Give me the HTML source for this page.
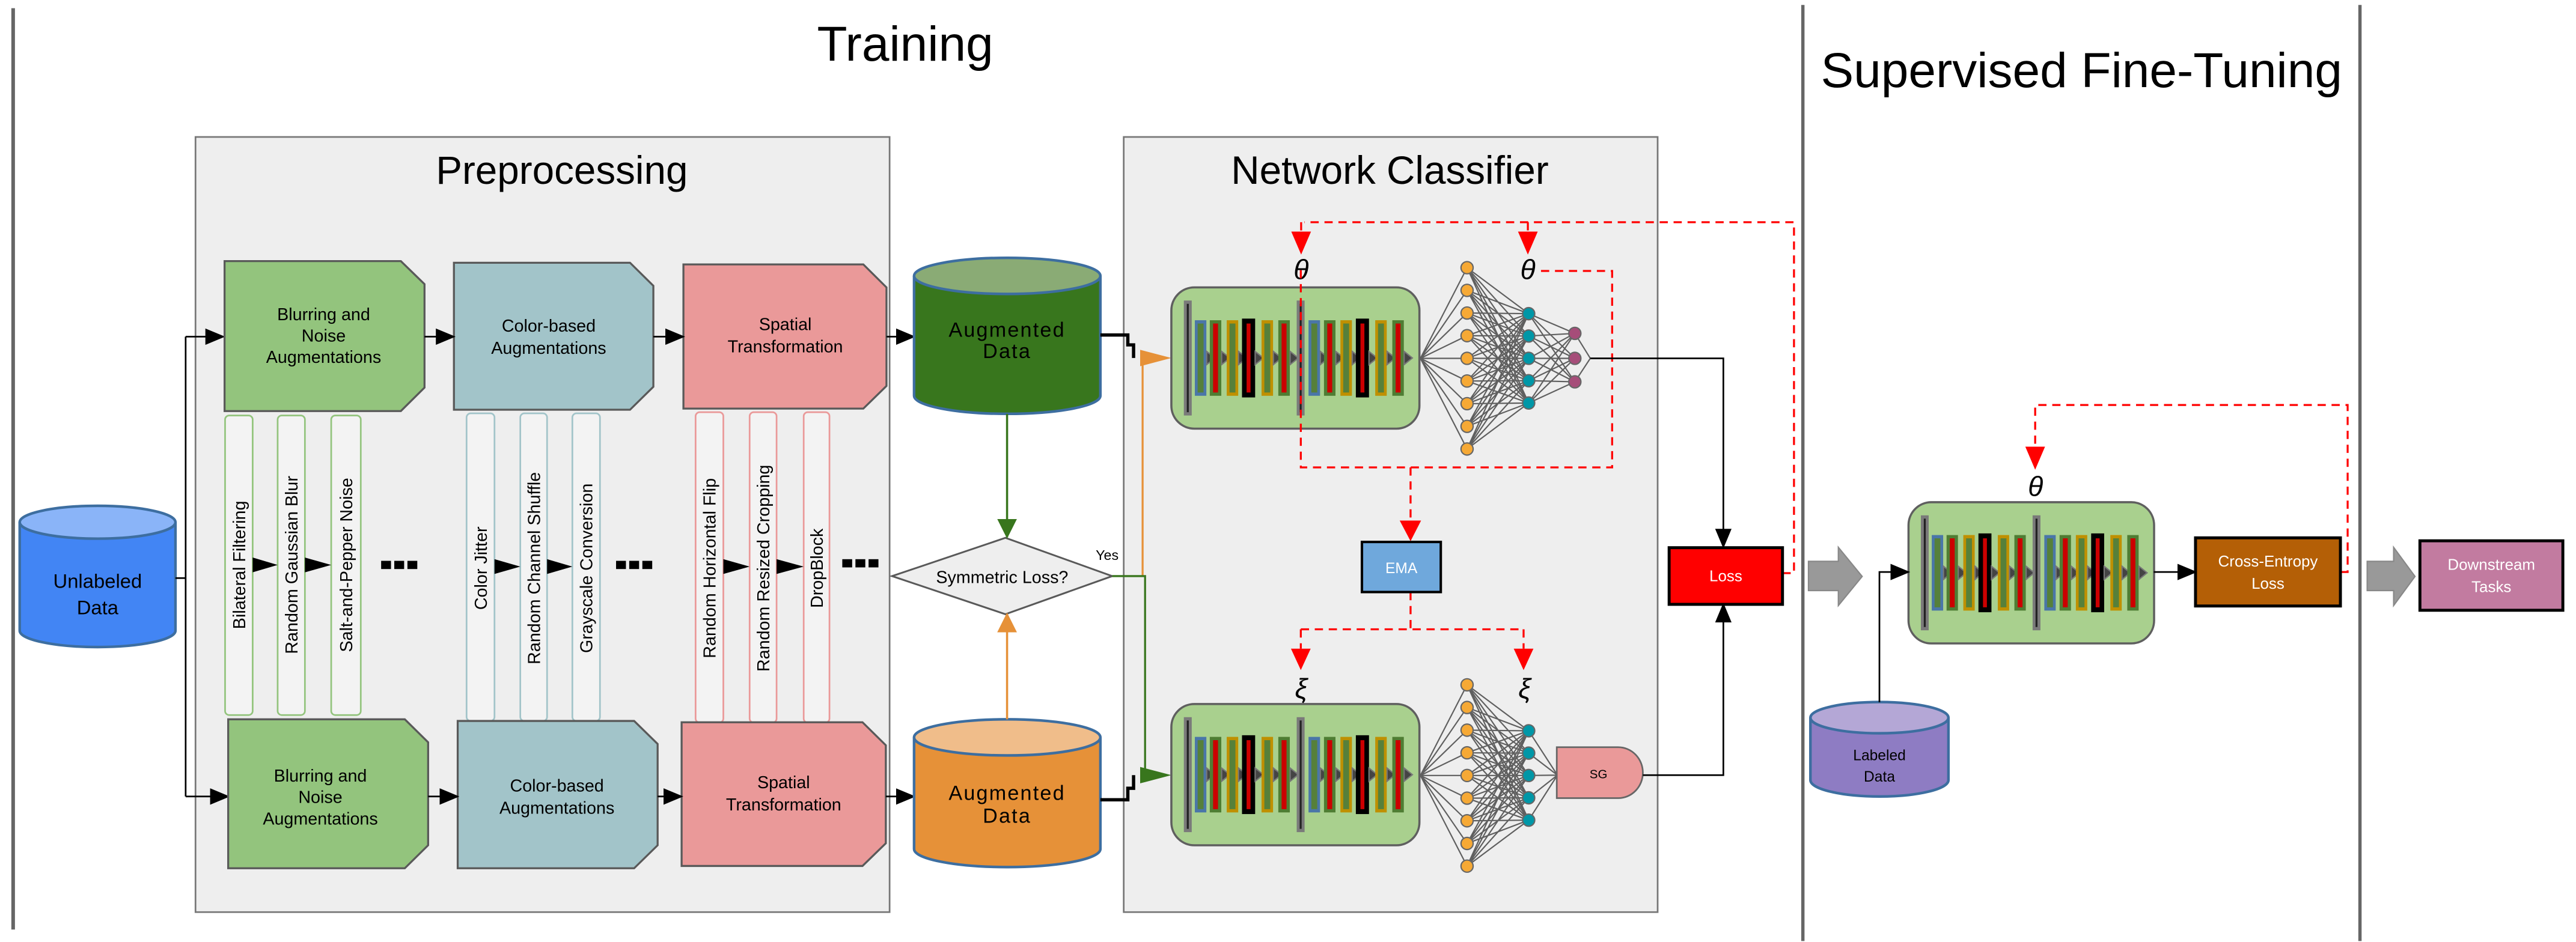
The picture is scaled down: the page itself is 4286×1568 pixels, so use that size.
<!DOCTYPE html>
<html><head><meta charset="utf-8"><style>
html,body{margin:0;padding:0;background:#fff;}
svg{display:block;}
text{font-family:"Liberation Sans",sans-serif;}
</style></head><body>
<svg width="4286" height="1568" viewBox="0 0 1568 573.6" preserveAspectRatio="none" xmlns="http://www.w3.org/2000/svg">
<defs>
<marker id="mb" markerUnits="userSpaceOnUse" markerWidth="12" markerHeight="10" refX="11" refY="5" orient="auto"><path d="M0 0L12 5L0 10z" fill="#000"/></marker>
<marker id="mg" markerUnits="userSpaceOnUse" markerWidth="12" markerHeight="12" refX="11" refY="6" orient="auto"><path d="M0 0L12 6L0 12z" fill="#38761d"/></marker>
<marker id="mo" markerUnits="userSpaceOnUse" markerWidth="12" markerHeight="12" refX="11" refY="6" orient="auto"><path d="M0 0L12 6L0 12z" fill="#e69138"/></marker>
<g id="lB"><rect x="-3.5" y="20" width="7" height="46" fill="#4a76a8"/><rect x="-1.8" y="22" width="3.6" height="42" fill="#56803a"/></g>
<g id="lG"><rect x="-3.5" y="20" width="7" height="46" fill="#4f7d33"/><rect x="-1.5" y="22" width="3" height="42" fill="#cc0000"/></g>
<g id="lY"><rect x="-3.5" y="20" width="7" height="46" fill="#bf9000"/><rect x="-1.8" y="22" width="3.6" height="42" fill="#56803a"/></g>
<g id="lK"><rect x="-4" y="19" width="8" height="48" fill="#000"/><rect x="-1.2" y="22" width="2.4" height="42" fill="#cc0000"/></g>
<g id="bar"><rect x="-2.4" y="8" width="4.8" height="70" fill="#7a7a7a"/><rect x="-0.6" y="10" width="1.2" height="66" fill="#222"/></g>
<path id="tri" d="M0 39L5 43L0 47z" fill="#444" stroke="#777" stroke-width="0.8"/>
<g id="nb">
<rect x="0" y="0" width="151" height="86" rx="14" fill="#a9d08e" stroke="#5f5f5f" stroke-width="1.3"/>
<use href="#bar" x="10"/>
<use href="#lB" x="17.8"/><use href="#tri" x="21.5"/>
<use href="#lG" x="26.9"/><use href="#tri" x="30.6"/>
<use href="#lY" x="37.2"/><use href="#tri" x="40.9"/>
<use href="#lK" x="47"/><use href="#tri" x="51"/>
<use href="#lY" x="58.4"/><use href="#tri" x="62.1"/>
<use href="#lG" x="68.6"/><use href="#tri" x="72.3"/>
<use href="#bar" x="78.7"/>
<use href="#lB" x="87"/><use href="#tri" x="90.7"/>
<use href="#lG" x="96.4"/><use href="#tri" x="100.1"/>
<use href="#lY" x="106.4"/><use href="#tri" x="110.1"/>
<use href="#lK" x="116.3"/><use href="#tri" x="120.3"/>
<use href="#lY" x="127.6"/><use href="#tri" x="131.3"/>
<use href="#lG" x="138"/><use href="#tri" x="141.7"/>
</g>
<g id="ot" stroke="#5f5f5f" stroke-width="0.8" fill="none">
<path d="M893 163L930.5 191M893 163L930.5 204.6M893 163L930.5 218.2M893 163L930.5 231.8M893 163L930.5 245.4
M893 176.8L930.5 191M893 176.8L930.5 204.6M893 176.8L930.5 218.2M893 176.8L930.5 231.8M893 176.8L930.5 245.4
M893 190.6L930.5 191M893 190.6L930.5 204.6M893 190.6L930.5 218.2M893 190.6L930.5 231.8M893 190.6L930.5 245.4
M893 204.4L930.5 191M893 204.4L930.5 204.6M893 204.4L930.5 218.2M893 204.4L930.5 231.8M893 204.4L930.5 245.4
M893 218.2L930.5 191M893 218.2L930.5 204.6M893 218.2L930.5 218.2M893 218.2L930.5 231.8M893 218.2L930.5 245.4
M893 232L930.5 191M893 232L930.5 204.6M893 232L930.5 218.2M893 232L930.5 231.8M893 232L930.5 245.4
M893 245.8L930.5 191M893 245.8L930.5 204.6M893 245.8L930.5 218.2M893 245.8L930.5 231.8M893 245.8L930.5 245.4
M893 259.6L930.5 191M893 259.6L930.5 204.6M893 259.6L930.5 218.2M893 259.6L930.5 231.8M893 259.6L930.5 245.4
M893 273.4L930.5 191M893 273.4L930.5 204.6M893 273.4L930.5 218.2M893 273.4L930.5 231.8M893 273.4L930.5 245.4
M864.6 218.2L893 163M864.6 218.2L893 176.8M864.6 218.2L893 190.6M864.6 218.2L893 204.4M864.6 218.2L893 218.2M864.6 218.2L893 232M864.6 218.2L893 245.8M864.6 218.2L893 259.6M864.6 218.2L893 273.4"/>
</g>
<g id="on" fill="#f6a935" stroke="#666" stroke-width="0.8">
<circle cx="893" cy="163" r="3.7"/><circle cx="893" cy="176.8" r="3.7"/><circle cx="893" cy="190.6" r="3.7"/><circle cx="893" cy="204.4" r="3.7"/><circle cx="893" cy="218.2" r="3.7"/><circle cx="893" cy="232" r="3.7"/><circle cx="893" cy="245.8" r="3.7"/><circle cx="893" cy="259.6" r="3.7"/><circle cx="893" cy="273.4" r="3.7"/>
</g>
<g id="tn" fill="#0097a7" stroke="#666" stroke-width="0.8">
<circle cx="930.5" cy="191" r="3.7"/><circle cx="930.5" cy="204.6" r="3.7"/><circle cx="930.5" cy="218.2" r="3.7"/><circle cx="930.5" cy="231.8" r="3.7"/><circle cx="930.5" cy="245.4" r="3.7"/>
</g>
</defs>

<line x1="8" y1="5" x2="8" y2="566" stroke="#666" stroke-width="2.2"/>
<line x1="1097.4" y1="3" x2="1097.4" y2="573" stroke="#666" stroke-width="2"/>
<line x1="1436.5" y1="3" x2="1436.5" y2="573" stroke="#666" stroke-width="2"/>
<text x="551" y="37" font-size="30" text-anchor="middle" fill="#000">Training</text>
<text x="1267" y="53" font-size="30" text-anchor="middle" fill="#000">Supervised Fine-Tuning</text>

<rect x="119" y="83.4" width="422.5" height="472" fill="#eeeeee" stroke="#777" stroke-width="1"/>
<text x="342" y="112" font-size="24" text-anchor="middle">Preprocessing</text>

<rect x="684" y="83.4" width="325" height="472" fill="#eeeeee" stroke="#777" stroke-width="1"/>
<text x="846" y="112" font-size="24" text-anchor="middle">Network Classifier</text>

<g stroke="#3d6ea0" stroke-width="1.6">
<path d="M12 318V384A47.4 10 0 0 0 106.8 384V318" fill="#4285f4"/>
<ellipse cx="59.4" cy="318" rx="47.4" ry="10" fill="#8ab4f8"/>
</g>
<text x="59.4" y="358" font-size="12" text-anchor="middle">Unlabeled</text>
<text x="59.4" y="374" font-size="12" text-anchor="middle">Data</text>
<path d="M106.8 352H113M113 205V485" stroke="#000" stroke-width="1" fill="none"/>
<path d="M113 205H136" stroke="#000" stroke-width="1" marker-end="url(#mb)"/>
<path d="M113 485H138.9" stroke="#000" stroke-width="1" marker-end="url(#mb)"/>

<g fill="#f3f3f3" stroke-width="1">
<rect x="137" y="253" width="16.8" height="182.4" rx="2.5" stroke="#93c47d"/>
<rect x="169" y="253" width="16.6" height="182.4" rx="2.5" stroke="#93c47d"/>
<rect x="201.6" y="253" width="18" height="182.4" rx="2.5" stroke="#93c47d"/>
<rect x="284" y="251.7" width="17" height="187.3" rx="2.5" stroke="#a2c4c9"/>
<rect x="316.7" y="251.7" width="16.3" height="187.3" rx="2.5" stroke="#a2c4c9"/>
<rect x="348.4" y="251.7" width="16.8" height="187.3" rx="2.5" stroke="#a2c4c9"/>
<rect x="423.4" y="251" width="16.9" height="189" rx="2.5" stroke="#ea9999"/>
<rect x="456.3" y="251" width="16.4" height="189" rx="2.5" stroke="#ea9999"/>
<rect x="489.2" y="251" width="15.7" height="189" rx="2.5" stroke="#ea9999"/>
</g>
<g font-size="10.5" text-anchor="middle" fill="#000">
<text transform="translate(149.3,344) rotate(-90)">Bilateral Filtering</text>
<text transform="translate(181.1,344) rotate(-90)">Random Gaussian Blur</text>
<text transform="translate(214.4,344) rotate(-90)">Salt-and-Pepper Noise</text>
<text transform="translate(296.3,346) rotate(-90)">Color Jitter</text>
<text transform="translate(328.7,346) rotate(-90)">Random Channel Shuffle</text>
<text transform="translate(360.6,346) rotate(-90)">Grayscale Conversion</text>
<text transform="translate(435.6,346) rotate(-90)">Random Horizontal Flip</text>
<text transform="translate(468.3,346) rotate(-90)">Random Resized Cropping</text>
<text transform="translate(500.8,346) rotate(-90)">DropBlock</text>
</g>
<g fill="#000">
<path d="M153.8 339.5L169 344L153.8 348.5z"/><path d="M185.6 339.5L201.6 344L185.6 348.5z"/>
<path d="M301 340.5L316.7 345L301 349.5z"/><path d="M333 340.5L348.4 345L333 349.5z"/>
<path d="M440.3 340.5L456.3 345L440.3 349.5z"/><path d="M472.7 340.5L489.2 345L472.7 349.5z"/>
<rect x="232" y="341.5" width="6" height="5"/><rect x="240" y="341.5" width="6" height="5"/><rect x="248" y="341.5" width="6" height="5"/>
<rect x="375" y="341.5" width="6" height="5"/><rect x="383" y="341.5" width="6" height="5"/><rect x="391" y="341.5" width="6" height="5"/>
<rect x="512.7" y="340.5" width="6" height="5"/><rect x="520.7" y="340.5" width="6" height="5"/><rect x="528.7" y="340.5" width="6" height="5"/>
</g>

<g stroke="#595959" stroke-width="1.2">
<path d="M136.7 159H244L258.4 173V236L244 250.3H136.7z" fill="#93c47d"/>
<path d="M276.3 160H383.5L397.7 174V235.5L383.5 249.5H276.3z" fill="#a2c4c9"/>
<path d="M416 161H525.5L539.6 175V235L525.5 248.8H416z" fill="#ea9999"/>
<path d="M138.9 438H246.4L260.6 452V514.7L246.4 528.7H138.9z" fill="#93c47d"/>
<path d="M278.6 439H386L400.3 453V514.7L386 528.7H278.6z" fill="#a2c4c9"/>
<path d="M414.9 439.8H525L539.2 453.8V513.5L525 527.3H414.9z" fill="#ea9999"/>
</g>
<g font-size="10.5" text-anchor="middle" fill="#000">
<text x="197" y="195">Blurring and</text><text x="197" y="208">Noise</text><text x="197" y="221">Augmentations</text>
<text x="334" y="202">Color-based</text><text x="334" y="215.5">Augmentations</text>
<text x="478" y="201">Spatial</text><text x="478" y="214.5">Transformation</text>
<text x="195" y="476">Blurring and</text><text x="195" y="489">Noise</text><text x="195" y="502">Augmentations</text>
<text x="339" y="482">Color-based</text><text x="339" y="495.5">Augmentations</text>
<text x="477" y="480">Spatial</text><text x="477" y="493.5">Transformation</text>
</g>
<g stroke="#000" stroke-width="1">
<path d="M258.4 205H276.3" marker-end="url(#mb)"/>
<path d="M397.7 205H416" marker-end="url(#mb)"/>
<path d="M539.6 205H556.4" marker-end="url(#mb)"/>
<path d="M260.6 485H278.6" marker-end="url(#mb)"/>
<path d="M400.3 485H414.9" marker-end="url(#mb)"/>
<path d="M539.2 485H556.4" marker-end="url(#mb)"/>
</g>

<g stroke="#3d6ea0" stroke-width="1.6">
<path d="M556.4 168V241A56.7 11 0 0 0 669.8 241V168" fill="#38761d"/>
<ellipse cx="613.1" cy="168" rx="56.7" ry="11" fill="#8aab75"/>
<path d="M556.4 449V517A56.7 11 0 0 0 669.8 517V449" fill="#e69138"/>
<ellipse cx="613.1" cy="449" rx="56.7" ry="11" fill="#f0bd8a"/>
</g>
<g font-size="12.5" text-anchor="middle" fill="#000" letter-spacing="0.8">
<text x="613" y="205">Augmented</text><text x="613" y="218">Data</text>
<text x="613" y="487">Augmented</text><text x="613" y="501">Data</text>
</g>

<path d="M543 350.8L612 327.5L677 350.8L612 374z" fill="#eeeeee" stroke="#595959" stroke-width="1.1"/>
<text x="610" y="355" font-size="10.5" text-anchor="middle">Symmetric Loss?</text>
<text x="667" y="341" font-size="8.5">Yes</text>
<path d="M613 252V327" stroke="#38761d" stroke-width="1.3" marker-end="url(#mg)"/>
<path d="M613 438V374" stroke="#e69138" stroke-width="1.3" marker-end="url(#mo)"/>
<path d="M695.5 350.8V218" stroke="#e69138" stroke-width="1.2" fill="none"/>
<path d="M677 350.8H697V472" stroke="#38761d" stroke-width="1.2" fill="none"/>
<path d="M669.8 204H686.5V210H690V218" stroke="#000" stroke-width="2" fill="none"/>
<path d="M669.8 487H686.5V480H690V472" stroke="#000" stroke-width="2" fill="none"/>
<path d="M694 213L713 218L694 223z" fill="#e69138"/>
<path d="M694 467L713 472L694 477z" fill="#38761d"/>

<use href="#nb" x="713" y="175"/>
<use href="#nb" x="713" y="428.7"/>
<use href="#ot"/>
<use href="#ot" y="254"/>
<g stroke="#5f5f5f" stroke-width="0.8" fill="none">
<path d="M930.5 191L958.6 203M930.5 191L958.6 218.2M930.5 191L958.6 232.5M930.5 204.6L958.6 203M930.5 204.6L958.6 218.2M930.5 204.6L958.6 232.5M930.5 218.2L958.6 203M930.5 218.2L958.6 218.2M930.5 218.2L958.6 232.5M930.5 231.8L958.6 203M930.5 231.8L958.6 218.2M930.5 231.8L958.6 232.5M930.5 245.4L958.6 203M930.5 245.4L958.6 218.2M930.5 245.4L958.6 232.5M958.6 203L968 218.2M958.6 232.5L968 218.2"/>
<path d="M930.5 445L948 472M930.5 458.6L948 472M930.5 472.2L948 472M930.5 485.8L948 472M930.5 499.4L948 472"/>
</g>
<use href="#on"/><use href="#on" y="254"/>
<use href="#tn"/><use href="#tn" y="254"/>
<g fill="#a64d79" stroke="#666" stroke-width="0.8">
<circle cx="958.6" cy="203" r="3.7"/><circle cx="958.6" cy="218.2" r="3.7"/><circle cx="958.6" cy="232.5" r="3.7"/>
</g>
<path d="M947.6 455H985A15 15.5 0 0 1 985 486H947.6z" fill="#ea9999" stroke="#666" stroke-width="1"/>
<text x="973" y="474" font-size="7.5" text-anchor="middle">SG</text>

<g font-family="'DejaVu Serif','Liberation Serif',serif" font-style="italic" font-size="17" text-anchor="middle" fill="#000">
<text x="792" y="170">θ</text><text x="930" y="170">θ</text>
<text x="792" y="425">ξ</text><text x="928" y="425">ξ</text>
<text x="1239" y="302">θ</text>
</g>

<g stroke="#f00" stroke-width="1.2" fill="none" stroke-dasharray="5,3.5">
<path d="M1085 349H1092V135.3H794"/>
<path d="M792 135.3V141"/>
<path d="M930 135.3V141"/>
<path d="M938 165H981.3V284.6H791.8V163"/>
<path d="M858.6 284.6V317"/>
<path d="M858.6 360.5V383.2M791.8 383.2H927.4M791.8 383.2V395M927.4 383.2V395"/>
<path d="M1425 348.3H1429V246.6H1238.8V272"/>
</g>
<g fill="#f00">
<path d="M786 141L798 141L792 155z"/><path d="M924 141L936 141L930 155z"/>
<path d="M852 317L865 317L858.6 329.5z"/>
<path d="M785.8 395L797.8 395L791.8 408z"/><path d="M921.4 395L933.4 395L927.4 408z"/>
<path d="M1232.8 272L1244.8 272L1238.8 286z"/>
</g>

<rect x="829" y="330" width="48" height="30.5" fill="#6fa8dc" stroke="#000" stroke-width="1.5"/>
<text x="853" y="349" font-size="9" text-anchor="middle" fill="#fff">EMA</text>

<rect x="1016" y="333.5" width="69" height="34.5" fill="#f00" stroke="#000" stroke-width="1.8"/>
<text x="1050.5" y="354" font-size="9.5" text-anchor="middle" fill="#fff">Loss</text>
<path d="M968 218.2H1049V333" stroke="#000" stroke-width="1" fill="none" marker-end="url(#mb)"/>
<path d="M1000 472H1049V368" stroke="#000" stroke-width="1" fill="none" marker-end="url(#mb)"/>

<path d="M1100.8 341.8H1119V333.3L1133.5 351L1119 368.7V359.6H1100.8z" fill="#999" stroke="#888" stroke-width="0.8"/>
<path d="M1440.9 341.8H1457V333.3L1470 351L1457 368.7V359.6H1440.9z" fill="#999" stroke="#888" stroke-width="0.8"/>

<use href="#nb" transform="translate(1161.7,305.8) scale(0.99,1)"/>
<g stroke="#3d6ea0" stroke-width="1.6">
<path d="M1102 437V475A42 10 0 0 0 1186 475V437" fill="#8e7cc3"/>
<ellipse cx="1144" cy="437" rx="42" ry="9.5" fill="#b4a7d6"/>
</g>
<text x="1144" y="463" font-size="9" text-anchor="middle">Labeled</text>
<text x="1144" y="476" font-size="9" text-anchor="middle">Data</text>
<path d="M1144 427.6V348.3H1161.7" stroke="#000" stroke-width="1" fill="none" marker-end="url(#mb)"/>
<path d="M1311 348.3H1336.4" stroke="#000" stroke-width="1" marker-end="url(#mb)"/>
<rect x="1336.4" y="327.5" width="88.2" height="41.5" fill="#b45f06" stroke="#000" stroke-width="1.8"/>
<text x="1380.5" y="345" font-size="9.5" text-anchor="middle" fill="#fff">Cross-Entropy</text>
<text x="1380.5" y="358.5" font-size="9.5" text-anchor="middle" fill="#fff">Loss</text>
<rect x="1473" y="329.3" width="87" height="42.3" fill="#c27ba0" stroke="#000" stroke-width="1.8"/>
<text x="1516.5" y="347" font-size="9.5" text-anchor="middle" fill="#fff">Downstream</text>
<text x="1516.5" y="360.5" font-size="9.5" text-anchor="middle" fill="#fff">Tasks</text>
</svg>
</body></html>
